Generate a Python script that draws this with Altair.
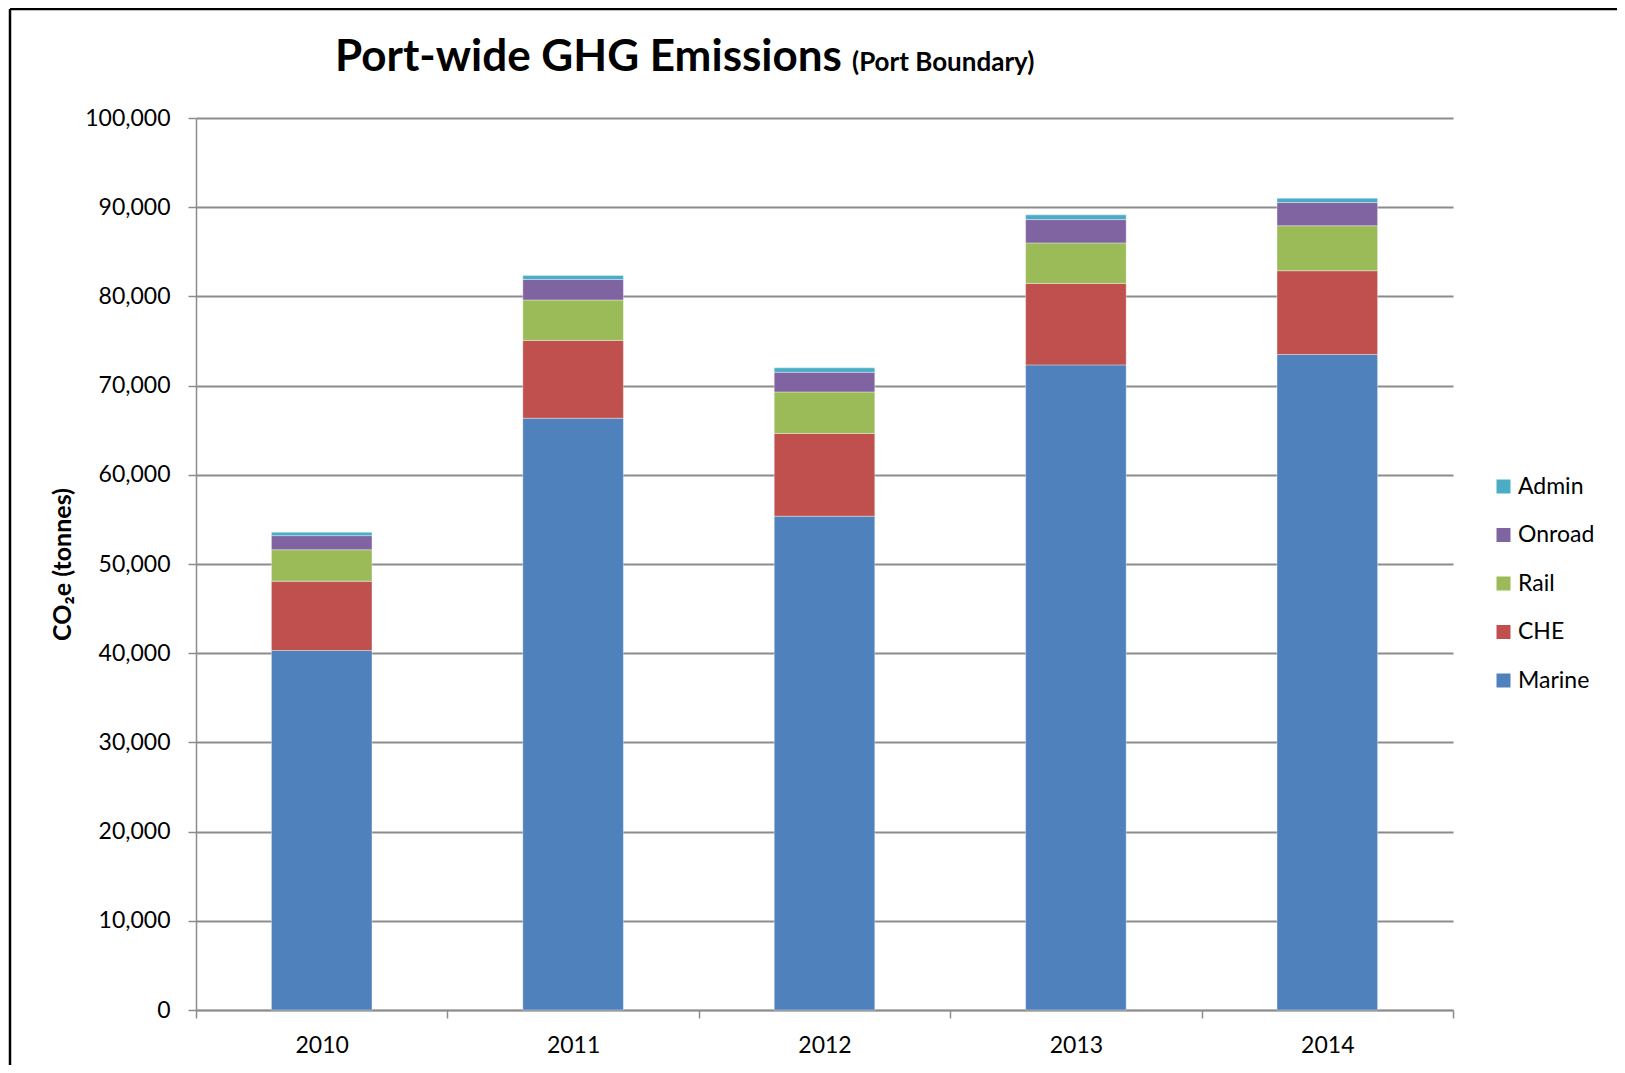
import altair as alt
import pandas as pd

# ---- data ----
years = ["2010", "2011", "2012", "2013", "2014"]
sources = ["Marine", "CHE", "Rail", "Onroad", "Admin"]
marine = [40300, 66340, 55360, 72320, 73480]
che = [7770, 8730, 9280, 9140, 9400]
rail = [3530, 4530, 4650, 4540, 5050]
onroad = [1580, 2300, 2200, 2610, 2590]
admin = [380, 450, 500, 530, 490]
y_ticks = list(range(0, 100001, 10000))

series = {"Marine": marine, "CHE": che, "Rail": rail, "Onroad": onroad, "Admin": admin}
colors = {"Marine": "#4F81BD", "CHE": "#C0504D", "Rail": "#9BBB59",
          "Onroad": "#8064A2", "Admin": "#4BACC6"}
legend_order = ["Admin", "Onroad", "Rail", "CHE", "Marine"]

rows = []
for si, s in enumerate(sources):
    for yi, yr in enumerate(years):
        rows.append({"Year": yr, "Source": s, "Emissions": series[s][yi], "idx": si})
df = pd.DataFrame(rows)

FONT = "Lato"
GRID = "#8c8c8c"
W, H = 1257, 892
PAD = {"left": 188, "top": 110, "right": 164, "bottom": 55}

bars = alt.Chart(df).mark_bar(
    width=alt.RelativeBandSize(0.4), stroke="#ffffff", strokeWidth=0.6, strokeOpacity=0.6
).encode(
    x=alt.X("Year:N",
            scale=alt.Scale(paddingInner=0, paddingOuter=0),
            axis=alt.Axis(title=None, labelAngle=0, tickBand="extent", tickSize=8,
                          labelPadding=16, labelFontSize=23, labelFont=FONT,
                          labelColor="#000000", domainColor=GRID, domainWidth=1.5,
                          tickColor=GRID, tickWidth=1.5, grid=False)),
    y=alt.Y("Emissions:Q", stack="zero",
            scale=alt.Scale(domain=[0, 100000], nice=False),
            axis=alt.Axis(values=y_ticks, format=",d", title="CO₂e (tonnes)",
                          titleFont=FONT, titleFontSize=25, titleFontWeight="bold",
                          titleColor="#000000", titleX=-134, titleY=H / 2,
                          titleAngle=270, titleAlign="center", titleBaseline="middle",
                          tickSize=8, labelPadding=18, labelFontSize=23, labelFont=FONT,
                          labelColor="#000000", domainColor=GRID, domainWidth=1.5,
                          tickColor=GRID, tickWidth=1.5, grid=True, gridColor=GRID,
                          gridWidth=1.8)),
    color=alt.Color("Source:N",
                    scale=alt.Scale(domain=legend_order,
                                    range=[colors[s] for s in legend_order]),
                    legend=alt.Legend(title=None, orient="none", legendX=1296, legendY=357,
                                      symbolType="square", symbolSize=196,
                                      symbolStrokeWidth=0, labelFontSize=23,
                                      labelFont=FONT, labelColor="#000000",
                                      rowPadding=24.5, labelOffset=3)),
    order=alt.Order("idx:Q"),
)

titles = alt.Chart(pd.DataFrame({"t": ["Port-wide GHG Emissions"]})).mark_text(
    align="left", baseline="alphabetic", font=FONT, fontSize=44, fontWeight="bold",
    color="#000000").encode(text="t:N", x=alt.value(139), y=alt.value(-47))

sub = alt.Chart(pd.DataFrame({"t": ["(Port Boundary)"]})).mark_text(
    align="left", baseline="alphabetic", font=FONT, fontSize=26, fontWeight="bold",
    color="#000000").encode(text="t:N", x=alt.value(656), y=alt.value(-47))

frame_top = alt.Chart(pd.DataFrame({"k": [0]})).mark_rule(color="#000000", strokeWidth=2.5).encode(
    x=alt.value(-186), x2=alt.value(1421), y=alt.value(-109))
frame_left = alt.Chart(pd.DataFrame({"k": [0]})).mark_rule(color="#000000", strokeWidth=2.5).encode(
    x=alt.value(-186), y=alt.value(-109), y2=alt.value(947))

chart = alt.layer(bars, titles, sub, frame_top, frame_left).properties(
    width=W, height=H,
    autosize=alt.AutoSizeParams(type="none"),
    padding=PAD,
).configure(background="#ffffff").configure_view(stroke=None)

chart.save("out.html", embed_options={"renderer": "svg", "actions": False})
